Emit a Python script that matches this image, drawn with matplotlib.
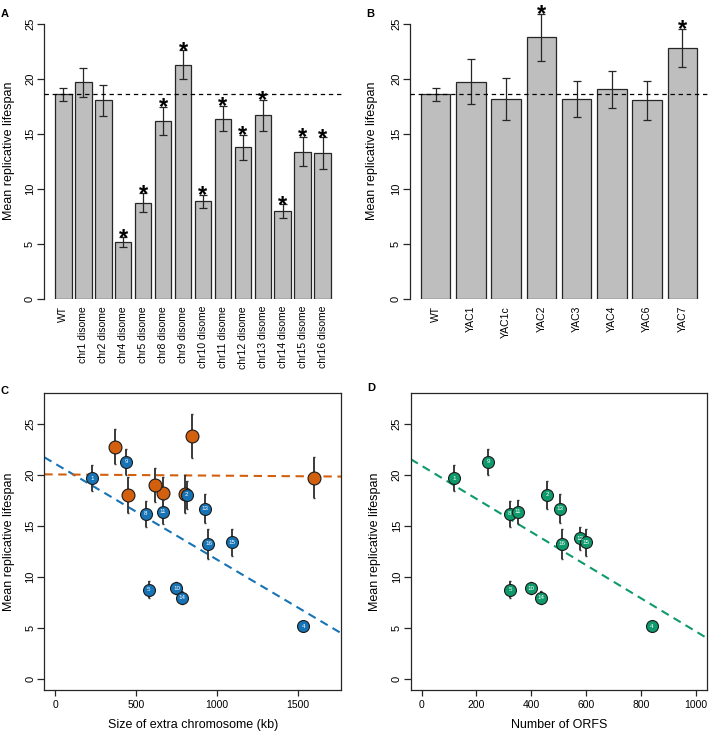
import numpy as np
import matplotlib
matplotlib.use("Agg")
import matplotlib.pyplot as plt

plt.rcParams['font.family'] = ['Liberation Sans', 'DejaVu Sans']

## data
wt_mean = 18.6
wt_err = 0.6

chroms = ['1', '2', '4', '5', '8', '9', '10', '11', '12', '13', '14', '15', '16']
disome_mean = [19.7, 18.05, 5.15, 8.75, 16.2, 21.3, 8.9, 16.4, 13.8, 16.7, 7.97, 13.4, 13.25]
disome_err = [1.3, 1.4, 0.45, 0.85, 1.25, 1.3, 0.6, 1.15, 1.15, 1.4, 0.65, 1.35, 1.45]
disome_sig = [False, False, True, True, True, True, True, True, True, True, True, True, True]
chr_size_kb = [227, 814, 1535, 578, 560, 438, 750, 665, np.nan, 925, 785, 1095, 948]  # chr12 not shown in C
chr_orfs = [119, 458, 839, 324, 322, 242, 399, 350, 578, 505, 436, 599, 512]

yacs = ['YAC1', 'YAC1c', 'YAC2', 'YAC3', 'YAC4', 'YAC6', 'YAC7']
yac_mean = [19.76, 18.15, 23.8, 18.2, 19.05, 18.05, 22.8]
yac_err = [2.05, 1.9, 2.15, 1.65, 1.65, 1.75, 1.75]
yac_sig = [False, False, True, False, False, False, True]
yac_size_kb = [1603, 801, 849, 667, 620, 448, 372]

BLUE = '#1673B5'
ORANGE = '#D2600F'
GREEN = '#0E9A6C'
BARGRAY = '#BEBEBE'
DARK = '#262626'

W, H = 709, 733
fig = plt.figure(figsize=(W / 100, H / 100), dpi=100)


def px_axes(left, top, right, bottom):
    return fig.add_axes([left / W, 1 - bottom / H, (right - left) / W, (bottom - top) / H])


def style_y(ax):
    ax.set_yticks([0, 5, 10, 15, 20, 25])
    ax.tick_params(axis='y', length=5, width=0.9, pad=1.5, labelsize=8, color=DARK)
    for lab in ax.get_yticklabels():
        lab.set_rotation(90)
        lab.set_va('center')


def barpanel(ax, names, means, errs, sig):
    n = len(names)
    x = 0.7 + 1.2 * np.arange(n)
    ax.bar(x, means, width=1.0, color=BARGRAY, edgecolor=DARK, linewidth=0.9, zorder=2)
    ax.errorbar(x, means, yerr=errs, fmt='none', ecolor=DARK, elinewidth=0.9,
                capsize=3, capthick=0.9, zorder=3)
    for xi, m, e, s in zip(x, means, errs, sig):
        if s:
            ax.annotate('*', (xi, m + e), xytext=(0, -5.3), textcoords='offset points',
                        ha='center', va='baseline', fontsize=17, fontweight='bold',
                        color='black', annotation_clip=False, zorder=4)
    ax.axhline(wt_mean, color='black', lw=0.9, ls=(0, (3.5, 3)), zorder=5)
    ax.set_xlim(0.2 - 0.04 * (1.2 * n - 0.2), 0.2 + 1.2 * n - 0.2 + 0.04 * (1.2 * n - 0.2))
    ax.set_ylim(0, 27)
    for sp in ['top', 'right', 'bottom']:
        ax.spines[sp].set_visible(False)
    ax.spines['left'].set_bounds(0, 25)
    ax.spines['left'].set_linewidth(0.9)
    ax.spines['left'].set_color(DARK)
    ax.set_xticks(x)
    ax.set_xticklabels(names, rotation=90, fontsize=7.5, va='top', ha='center')
    ax.tick_params(axis='x', length=0, pad=5)
    style_y(ax)
    ax.set_ylabel('Mean replicative lifespan', fontsize=9)


def scatter_box(ax, xlim):
    ax.set_xlim(xlim[0] - 0.04 * (xlim[1] - xlim[0]), xlim[1] + 0.04 * (xlim[1] - xlim[0]))
    ax.set_ylim(-1.08, 28.08)
    for sp in ax.spines.values():
        sp.set_linewidth(0.9)
        sp.set_color(DARK)
    style_y(ax)
    ax.tick_params(axis='x', length=4, width=0.9, pad=3.5, labelsize=7.5, color=DARK)
    ax.set_ylabel('Mean replicative lifespan', fontsize=9)


def points(ax, xs, ys, errs, color, labels=None, size=8.6):
    ax.errorbar(xs, ys, yerr=errs, fmt='none', ecolor='#3a3a3a', elinewidth=1.4,
                capsize=1, capthick=1, zorder=3)
    ax.plot(xs, ys, 'o', ms=size, mfc=color, mec='#1a1a1a', mew=0.8, zorder=4, ls='none')
    if labels is not None:
        for xi, yi, lab in zip(xs, ys, labels):
            ax.text(xi, yi, lab, color='white', fontsize=4.5, ha='center', va='center', zorder=5)


# ---- A
axA = px_axes(44, 2, 342, 299)
barpanel(axA, ['WT'] + ['chr%s disome' % c for c in chroms],
         [wt_mean] + disome_mean, [wt_err] + disome_err, [False] + disome_sig)

# ---- B
axB = px_axes(410, 2, 708, 299)
barpanel(axB, ['WT'] + yacs, [wt_mean] + yac_mean, [wt_err] + yac_err, [False] + yac_sig)

# ---- C
axC = px_axes(44.3, 392.7, 341, 690)
scatter_box(axC, (0, 1700))
axC.set_xticks([0, 500, 1000, 1500])
size_arr = np.array(chr_size_kb, dtype=float)
keep = ~np.isnan(size_arr)
cx = size_arr[keep]
cy = np.array(disome_mean)[keep]
ce = np.array(disome_err)[keep]
clab = [c for c, k in zip(chroms, keep) if k]

m_b, b_b = np.polyfit(cx, cy, 1)
m_o, b_o = np.polyfit(yac_size_kb, yac_mean, 1)
axC.axline((0, b_b), slope=m_b, color=BLUE, lw=1.5, ls=(0, (4, 2.7)), zorder=2)
axC.axline((0, b_o), slope=m_o, color=ORANGE, lw=1.5, ls=(0, (4, 2.7)), zorder=2)
points(axC, yac_size_kb, yac_mean, yac_err, ORANGE, size=9.3)
points(axC, cx, cy, ce, BLUE, labels=clab)
axC.set_xlabel('Size of extra chromosome (kb)', fontsize=9)

# ---- D
axD = px_axes(410.7, 392.7, 706.7, 690)
scatter_box(axD, (0, 1000))
axD.set_xticks([0, 200, 400, 600, 800, 1000])
m_g, b_g = np.polyfit(chr_orfs, disome_mean, 1)
axD.axline((0, b_g), slope=m_g, color=GREEN, lw=1.5, ls=(0, (4, 2.7)), zorder=2)
points(axD, chr_orfs, disome_mean, disome_err, GREEN, labels=chroms)
axD.set_xlabel('Number of ORFS', fontsize=9)

# label positions
for ax, lx in [(axA, -0.097), (axB, -0.107), (axC, -0.099), (axD, -0.100)]:
    ax.yaxis.set_label_coords(lx, 0.5)
for ax in (axC, axD):
    ax.xaxis.set_label_coords(0.5, -0.098)

for lab, (px, py) in zip('ABCD', [(4.5, 14), (370, 14), (4.5, 391), (371.5, 388)]):
    fig.text(px / W, 1 - py / H, lab, fontsize=8, fontweight='bold', ha='center', va='center')

fig.savefig('out.png', dpi=100)
